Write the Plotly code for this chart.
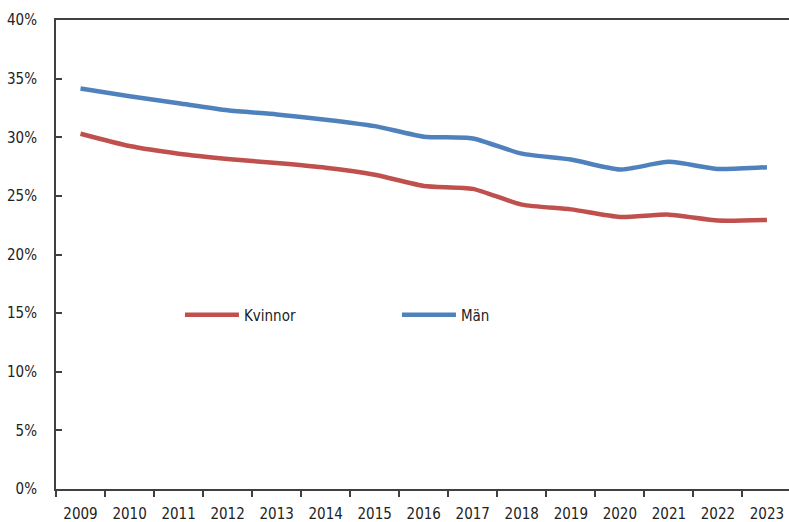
import plotly.graph_objects as go

years = ["2009", "2010", "2011", "2012", "2013", "2014", "2015", "2016",
         "2017", "2018", "2019", "2020", "2021", "2022", "2023"]
kvinnor = [30.3, 29.25, 28.6, 28.15, 27.8, 27.4, 26.8, 25.85,
           25.6, 24.25, 23.85, 23.2, 23.4, 22.9, 22.95]
man = [34.15, 33.5, 32.9, 32.3, 31.95, 31.5, 30.95, 30.05,
       29.9, 28.6, 28.1, 27.25, 27.9, 27.3, 27.45]
y_ticks = [0, 5, 10, 15, 20, 25, 30, 35, 40]
y_labels = [f"{v}%" for v in y_ticks]

FONT = "Liberation Sans Narrow, Arial Narrow, DejaVu Sans Condensed, sans-serif"

fig = go.Figure()
fig.add_trace(go.Scatter(x=years, y=kvinnor, name="Kvinnor", mode="lines",
                         line=dict(color="#C0504D", width=4.5, shape="spline", smoothing=0.6)))
fig.add_trace(go.Scatter(x=years, y=man, name="Män", mode="lines",
                         line=dict(color="#4F81BD", width=4.5, shape="spline", smoothing=0.6)))

fig.update_layout(
    width=789, height=522,
    margin=dict(l=56, r=0, t=20, b=33),
    paper_bgcolor="white", plot_bgcolor="white",
    font=dict(family=FONT, size=15, color="#222222"),
    legend=dict(orientation="h", x=0.1691, y=0.371, xanchor="left", yanchor="middle",
                bgcolor="rgba(0,0,0,0)", entrywidth=148, entrywidthmode="pixels",
                itemwidth=54,
                font=dict(family=FONT, size=15, color="#222222")),
    showlegend=True,
)
fig.update_xaxes(
    type="category", range=[-0.5, 14.45], automargin=False,
    showline=True, linecolor="#404040", linewidth=2, mirror=True,
    ticks="outside", ticklen=6, tickcolor="#404040", tickwidth=1.5,
    tickson="boundaries", showgrid=False, zeroline=False,
    ticklabelstandoff=10,
)
fig.update_yaxes(
    range=[0, 40], tickvals=y_ticks, ticktext=y_labels, automargin=False,
    showline=True, linecolor="#404040", linewidth=2,
    ticks="inside", ticklen=6, tickcolor="#404040", tickwidth=1.5,
    showgrid=False, zeroline=False, ticklabelstandoff=14,
)
fig.write_html("out.html", config={"displayModeBar": False},
               post_script="document.body.style.margin='0';document.body.style.overflow='hidden';")
